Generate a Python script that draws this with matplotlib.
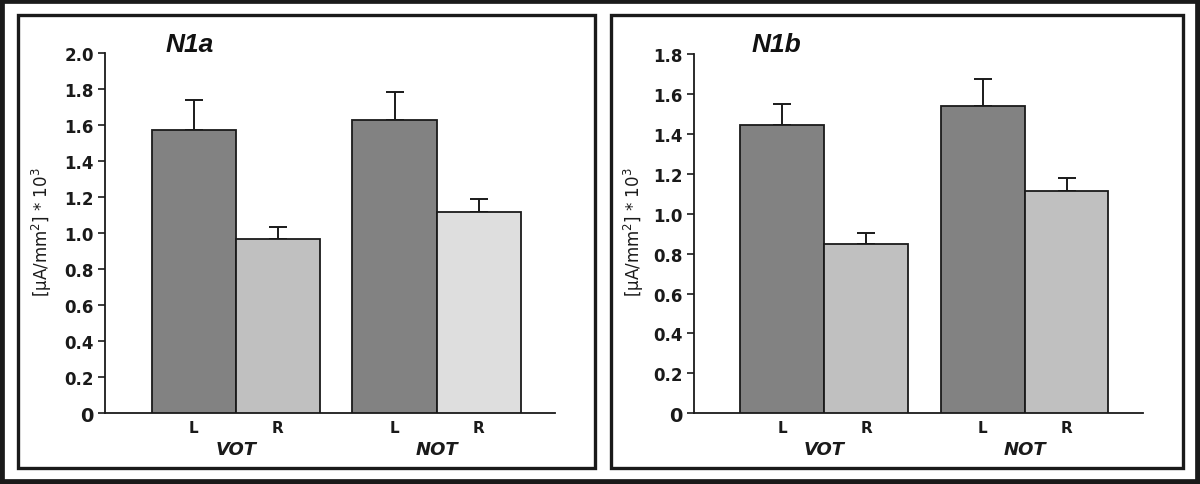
import matplotlib
matplotlib.use("Agg")
import matplotlib.pyplot as plt
from matplotlib.patches import Rectangle
import numpy as np

plt.rcParams['font.family'] = ['DejaVu Sans']
plt.rcParams['mathtext.default'] = 'regular'

groups = ["VOT", "NOT"]
sides = ["L", "R"]

# N1a panel
n1a_L = [1.57, 1.63]
n1a_L_err = [0.17, 0.155]
n1a_R = [0.97, 1.115]
n1a_R_err = [0.063, 0.073]
n1a_yticks = [0, 0.2, 0.4, 0.6, 0.8, 1.0, 1.2, 1.4, 1.6, 1.8, 2.0]

# N1b panel
n1b_L = [1.445, 1.537]
n1b_L_err = [0.103, 0.14]
n1b_R = [0.848, 1.113]
n1b_R_err = [0.057, 0.065]
n1b_yticks = [0, 0.2, 0.4, 0.6, 0.8, 1.0, 1.2, 1.4, 1.6, 1.8]

W, H = 1200, 485
fig = plt.figure(figsize=(W / 100, H / 100), dpi=100)

def fx(px):
    return px / W

def fy(py):
    return 1 - py / H

# outer border
fig.patches.append(Rectangle((0, 0), 1, 1, transform=fig.transFigure, fill=False,
                             edgecolor='#1a1a1a', linewidth=7.0, zorder=10))
# panel boxes
for (x0, x1) in [(17.5, 595.0), (610.7, 1182.5)]:
    fig.patches.append(Rectangle((fx(x0), fy(469.0)), fx(x1 - x0), (469.0 - 15.5) / H,
                                 transform=fig.transFigure, fill=False,
                                 edgecolor='#1a1a1a', linewidth=2.4, zorder=10))

bw = 0.419
dark = '#828282'
light = '#c0c0c0'

def panel(rect, Lv, Le, Rv, Re, yticks, ymax, title, title_x, r_colors):
    ax = fig.add_axes(rect)
    x = np.arange(len(groups))
    ax.bar(x - bw / 2, Lv, width=bw, color=dark, edgecolor='#1a1a1a', linewidth=1.3, zorder=3)
    ax.bar(x + bw / 2, Rv, width=bw, color=r_colors, edgecolor='#1a1a1a', linewidth=1.3, zorder=3)
    ax.errorbar(x - bw / 2, Lv, yerr=[np.zeros(len(Lv)), Le], fmt='none', ecolor='#1a1a1a',
                elinewidth=1.4, capsize=6.3, capthick=1.4, zorder=2)
    ax.errorbar(x + bw / 2, Rv, yerr=[np.zeros(len(Rv)), Re], fmt='none', ecolor='#1a1a1a',
                elinewidth=1.4, capsize=6.3, capthick=1.4, zorder=2)
    ax.set_xlim(-0.652, 1.59)
    ax.set_ylim(0, ymax)
    ax.set_yticks(yticks)
    labels = ['0' if v == 0 else f'{v:.1f}' for v in yticks]
    ax.set_yticklabels(labels)
    for t, v in zip(ax.get_yticklabels(), yticks):
        t.set_fontweight('bold')
        t.set_fontsize(14 if v == 0 else 12)
        t.set_color('#1a1a1a')
    ax.tick_params(axis='y', length=5, width=1.2, pad=3, colors='#1a1a1a')
    ax.set_xticks(np.concatenate([x - bw / 2, x + bw / 2]))
    ax.set_xticklabels(sides[:1] * len(groups) + sides[1:] * len(groups))
    ax.tick_params(axis='x', length=0, pad=5)
    for t in ax.get_xticklabels():
        t.set_fontweight('bold')
        t.set_fontsize(11)
        t.set_color('#1a1a1a')
    for i, g in enumerate(groups):
        ax.text(x[i], -0.1, g, transform=ax.get_xaxis_transform(), ha='center', va='center',
                fontsize=13, fontweight='bold', fontstyle='italic', color='#1a1a1a')
    for s in ['top', 'right']:
        ax.spines[s].set_visible(False)
    for s in ['left', 'bottom']:
        ax.spines[s].set_linewidth(1.3)
        ax.spines[s].set_color('#1a1a1a')
    fig.text(title_x, fy(45), title, ha='center', va='center', fontsize=19,
             fontweight='bold', fontstyle='italic', family='Liberation Sans', color='#111111')
    return ax

ylabel = '[μA/mm$^2$] * 10$^3$'

panel([fx(105), fy(414.3), fx(555 - 105), (414.3 - 54) / H], n1a_L, n1a_L_err, n1a_R, n1a_R_err,
      n1a_yticks, 2.0, 'N1a', fx(190), [light, '#dedede'])
fig.text(fx(42), fy(232), ylabel, rotation=90, ha='center', va='center', fontsize=12, color='#1a1a1a')

panel([fx(693.8), fy(414.3), fx(1142.7 - 693.8), (414.3 - 55) / H], n1b_L, n1b_L_err, n1b_R, n1b_R_err,
      n1b_yticks, 1.8, 'N1b', fx(776), [light, light])
fig.text(fx(634), fy(232), ylabel, rotation=90, ha='center', va='center', fontsize=12, color='#1a1a1a')

fig.savefig('out.png', dpi=100)
